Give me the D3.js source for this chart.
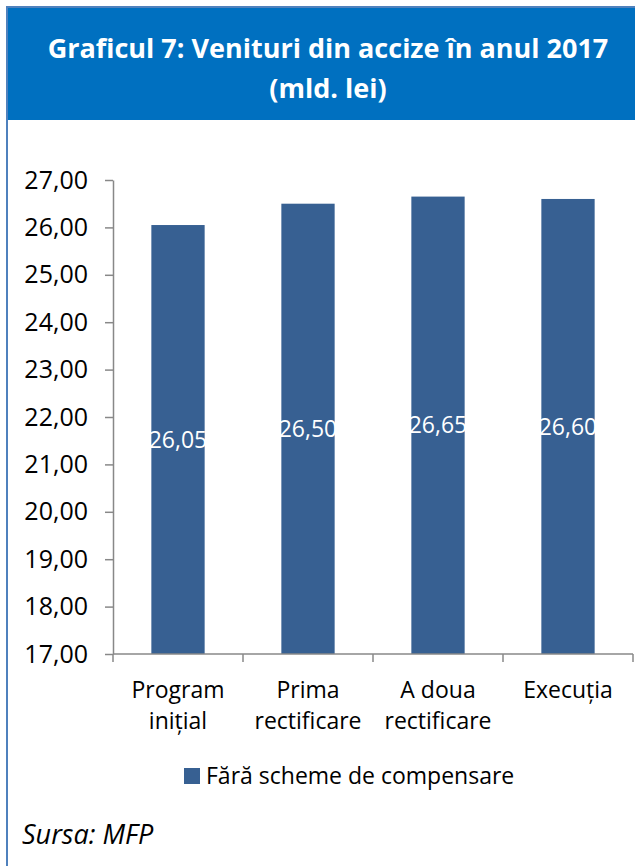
<!DOCTYPE html>
<html>
<head>
<meta charset="utf-8">
<script src="https://cdn.jsdelivr.net/npm/d3@7/dist/d3.min.js"></script>
<style>
  html, body { margin: 0; padding: 0; background: #fff; }
  svg { display: block; }
  text { font-family: "Open Sans", "Noto Sans", sans-serif; }
</style>
</head>
<body>
<div id="chart"></div>
<script>
// Excise revenues in 2017, billion lei
const categories = [["Program", "inițial"], ["Prima", "rectificare"], ["A doua", "rectificare"], ["Execuția"]];
const values = [26.05, 26.50, 26.65, 26.60];
const valueLabels = ["26,05", "26,50", "26,65", "26,60"];
const yTicks = [17, 18, 19, 20, 21, 22, 23, 24, 25, 26, 27];
const seriesName = "Fără scheme de compensare";
const titleLines = ["Graficul 7: Venituri din accize în anul 2017", "(mld. lei)"];
const sourceNote = "Sursa: MFP";

const W = 635, H = 866;
const barColor = "#376092";
const fmt = d => d.toFixed(2).replace(".", ",");

const svg = d3.select("#chart").append("svg")
  .attr("width", W).attr("height", H);

// Frame: header band and left rule
svg.append("rect").attr("x", 8).attr("y", 8).attr("width", W - 8).attr("height", 112)
  .attr("fill", "#0070C0");
svg.append("line").attr("x1", 7).attr("x2", W).attr("y1", 7).attr("y2", 7)
  .attr("stroke", "#4F81BD").attr("stroke-width", 2);
svg.append("line").attr("x1", 7).attr("x2", 7).attr("y1", 6).attr("y2", H)
  .attr("stroke", "#4F81BD").attr("stroke-width", 2);

svg.append("g").selectAll("text").data(titleLines).join("text")
  .attr("x", 328).attr("y", (d, i) => 58 + i * 40)
  .attr("text-anchor", "middle")
  .attr("fill", "#fff").attr("font-weight", "bold").attr("font-size", 27)
  .text(d => d);

// Scales
const x = d3.scaleBand().domain(d3.range(categories.length))
  .range([113, 633]).paddingInner(0.59).paddingOuter(0.295);
const y = d3.scaleLinear().domain([17, 27]).range([654, 180]);

// Bars
svg.append("g").selectAll("rect").data(values).join("rect")
  .attr("x", (d, i) => x(i)).attr("width", x.bandwidth())
  .attr("y", d => y(d)).attr("height", d => y(17) - y(d))
  .attr("fill", barColor);

// Value labels centred inside bars
svg.append("g").selectAll("text").data(values).join("text")
  .attr("x", (d, i) => x(i) + x.bandwidth() / 2)
  .attr("y", d => (y(d) + y(17)) / 2)
  .attr("dy", "0.35em")
  .attr("text-anchor", "middle")
  .attr("fill", "#fff").attr("font-size", 23)
  .text((d, i) => valueLabels[i]);

// Y axis
const yAxis = d3.axisLeft(y).tickValues(yTicks).tickFormat(fmt).tickSizeInner(8).tickSizeOuter(0).tickPadding(17);
const gy = svg.append("g").attr("transform", "translate(113,0)").call(yAxis);
gy.select(".domain").attr("stroke", "#888").attr("stroke-width", 1.5);
gy.selectAll(".tick line").attr("stroke", "#888").attr("stroke-width", 1.5);
gy.selectAll(".tick text").attr("fill", "#000").attr("font-size", 25)
  .attr("font-family", "'Open Sans', sans-serif");

// X axis with boundary ticks
const xAxisG = svg.append("g");
xAxisG.append("line").attr("x1", 113).attr("x2", 633).attr("y1", y(17)).attr("y2", y(17))
  .attr("stroke", "#888").attr("stroke-width", 1.5);
const bounds = d3.range(categories.length + 1).map(i => 113 + i * x.step());
xAxisG.selectAll("line.b").data(bounds).join("line").attr("class", "b")
  .attr("x1", d => d).attr("x2", d => d)
  .attr("y1", y(17)).attr("y2", y(17) + 8)
  .attr("stroke", "#888").attr("stroke-width", 1.5);

const catG = svg.append("g").selectAll("text").data(categories).join("text")
  .attr("text-anchor", "middle").attr("font-size", 23).attr("fill", "#000");
catG.selectAll("tspan").data((d, i) => d.map(s => ({ s, i }))).join("tspan")
  .attr("x", d => x(d.i) + x.bandwidth() / 2)
  .attr("y", (d, j) => 698 + j * 31)
  .text(d => d.s);

// Legend
svg.append("rect").attr("x", 184).attr("y", 768).attr("width", 16).attr("height", 16).attr("fill", barColor);
svg.append("text").attr("x", 206).attr("y", 784).attr("font-size", 23).attr("fill", "#000").text(seriesName);

// Source note
svg.append("text").attr("x", 22).attr("y", 844).attr("font-size", 27).attr("font-style", "italic")
  .attr("fill", "#000").text(sourceNote);
</script>
</body>
</html>
